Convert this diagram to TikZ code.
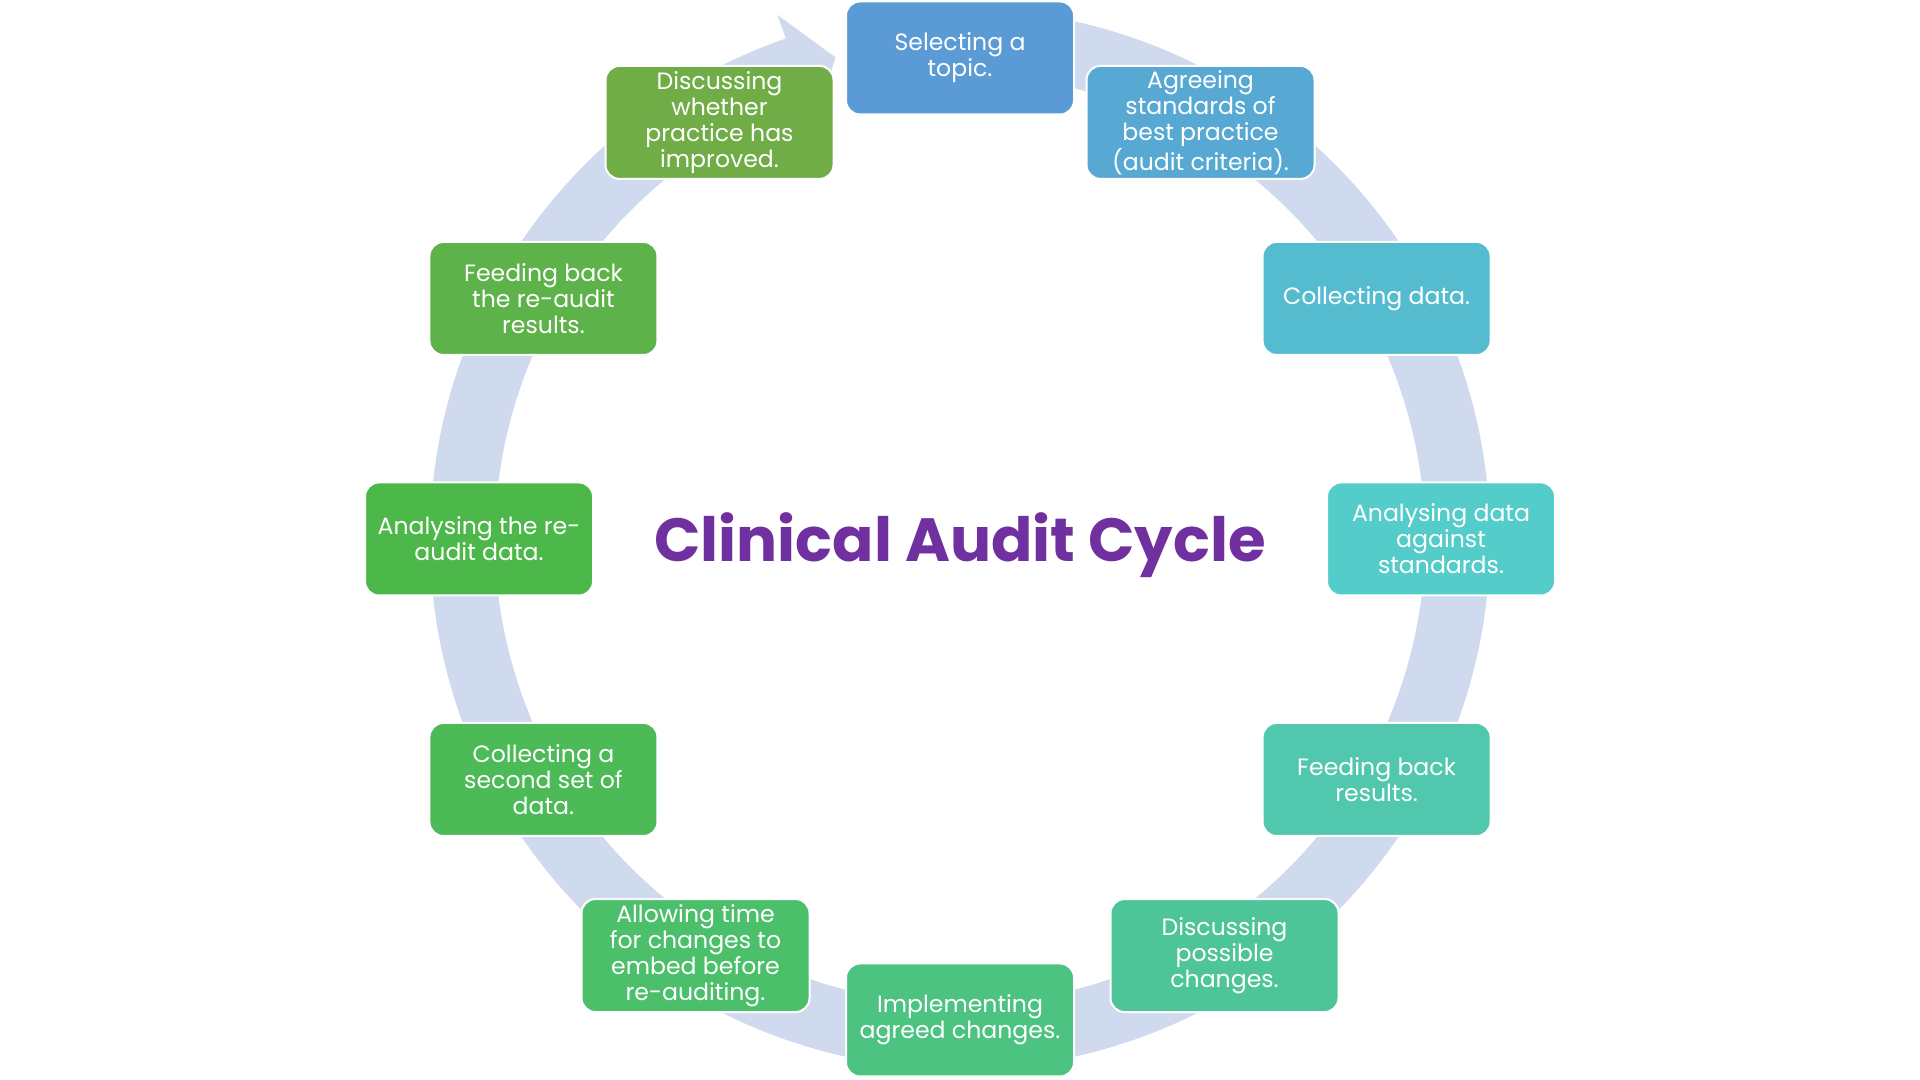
\documentclass[tikz,border=0pt]{standalone}
\usepackage{fontspec}
\setmainfont{Poppins}
\usepackage{tikz}
\definecolor{ringblue}{HTML}{D0DAEE}
\definecolor{titlepurple}{HTML}{7030A0}
\definecolor{c1}{HTML}{5B9BD5}
\definecolor{c2}{HTML}{57A9D4}
\definecolor{c3}{HTML}{55BCCF}
\definecolor{c4}{HTML}{53CCCA}
\definecolor{c5}{HTML}{51C8AE}
\definecolor{c6}{HTML}{4EC598}
\definecolor{c7}{HTML}{4DC382}
\definecolor{c8}{HTML}{4BBF6A}
\definecolor{c9}{HTML}{4BBA57}
\definecolor{c10}{HTML}{4DB84A}
\definecolor{c11}{HTML}{5DB24A}
\definecolor{c12}{HTML}{70AD47}
\tikzset{every node/.style={font=\fontsize{11.8}{13}\selectfont},
  stage/.style={draw=white, line width=1pt, rounded corners=7pt, text=white,
    align=center, minimum width=114pt, minimum height=56.5pt, inner sep=2pt}}

\begin{document}
\begin{tikzpicture}[x=0.5pt, y=0.5pt]
  \fill[white] (0,0) rectangle (1920,1080);
  \useasboundingbox (0,0) rectangle (1920,1080);
  \begin{scope}[shift={(960,541)}]
    % ring with its head pointing at the first stage
    \fill[ringblue] (90:530) arc[start angle=90, end angle=-250.8, radius=530]
      -- (109.2:555) -- (104.5:497.5) -- (109.2:440) -- (109.2:465)
      arc[start angle=109.2, end angle=450, radius=465] -- cycle;
    % stages round the ring (dx pushes the two bottom side boxes outwards)
    \foreach \i/\dx/\txt in {1/0/{Selecting a\\topic.},
        2/0/{Agreeing\\standards of\\best practice\\(audit criteria).},
        3/0/{Collecting data.},
        4/0/{Analysing data\\against\\standards.},
        5/0/{Feeding back\\results.},
        6/24/{Discussing\\possible\\changes.},
        7/0/{Implementing\\agreed changes.},
        8/-24/{Allowing time\\for changes to\\embed before\\re-auditing.},
        9/0/{Collecting a\\second set of\\data.},
        10/0/{Analysing the re-\\audit data.},
        11/0/{Feeding back\\the re-audit\\results.},
        12/0/{Discussing\\whether\\practice has\\improved.}}
      \node[stage, fill=c\i, xshift=\dx*0.5pt] (st\i) at ({120-30*\i}:481) {\txt};
    \node[font=\fontsize{30.5}{36}\selectfont\bfseries, text=titlepurple, anchor=base]
      (title) at (0,-23) {Clinical Audit Cycle};
  \end{scope}
\end{tikzpicture}
\end{document}
